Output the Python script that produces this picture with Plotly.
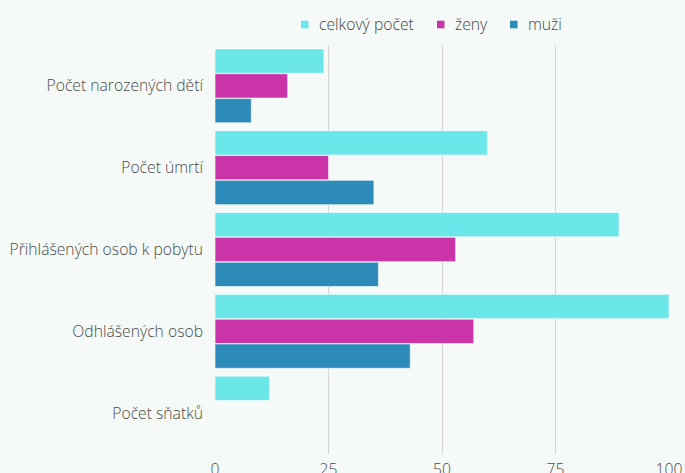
import plotly.graph_objects as go

categories = ["Počet narozených dětí", "Počet úmrtí", "Přihlášených osob k pobytu", "Odhlášených osob", "Počet sňatků"]
celkovy = [24, 60, 89, 100, 12]
zeny = [16, 25, 53, 57, 0]
muzi = [8, 35, 36, 43, 0]
series_names = ["celkový počet", "ženy", "muži"]
colors = ["#6be6e9", "#cb33a8", "#2d8bba"]
x_ticks = [0, 25, 50, 75, 100]

W, H = 685, 473
ML, MR, MT, MB = 215, 16, 45, 19
PW, PH = W - ML - MR, H - MT - MB

def px_x(p):
    return (p - ML) / PW

def px_y(p):
    return (H - MB - p) / PH

fig = go.Figure()
for name, vals, col in zip(series_names, [celkovy, zeny, muzi], colors):
    fig.add_trace(go.Bar(
        y=categories, x=vals, name=name, orientation="h",
        marker=dict(color=col, line=dict(color="rgba(255,255,255,0.6)", width=1)),
        showlegend=False,
    ))

# custom legend (square + label)
legend_sq_left = [301, 437, 510]
legend_txt_left = [317, 453, 526]
for name, col, sx, tx in zip(series_names, colors, legend_sq_left, legend_txt_left):
    fig.add_shape(type="rect", xref="paper", yref="paper",
                  x0=px_x(sx), x1=px_x(sx + 7.5), y0=px_y(28.3), y1=px_y(20.7),
                  fillcolor=col, line=dict(width=0))
    fig.add_annotation(text=name, xref="paper", yref="paper",
                       x=px_x(tx), y=px_y(24), xanchor="left", yanchor="middle",
                       showarrow=False,
                       font=dict(family="Open Sans", size=15.7, color="#444", weight=300))

bg = "#f5faf8"
fig.update_layout(
    width=W, height=H,
    paper_bgcolor=bg, plot_bgcolor=bg,
    margin=dict(l=ML, r=MR, t=MT, b=MB, autoexpand=False),
    barmode="group", bargap=0.09, bargroupgap=0.02,
    showlegend=False,
    font=dict(family="Open Sans", size=15.7, color="#4a4a4a", weight=300),
    xaxis=dict(range=[0, 100], tickvals=x_ticks, showgrid=True, gridcolor="#d4d4d4",
               gridwidth=1, zeroline=False, showline=False, fixedrange=True,
               automargin=False, ticklabelstandoff=4,
               tickfont=dict(size=15.7, color="#4a4a4a", weight=300)),
    yaxis=dict(autorange="reversed", showgrid=False, zeroline=False, showline=False,
               automargin=False, ticklabelstandoff=11, fixedrange=True,
               tickfont=dict(size=15.7, color="#4a4a4a", weight=300)),
)
fig.write_html("out.html", config={"displayModeBar": False},
               post_script="document.body.style.margin='0';document.body.style.overflow='hidden';")
